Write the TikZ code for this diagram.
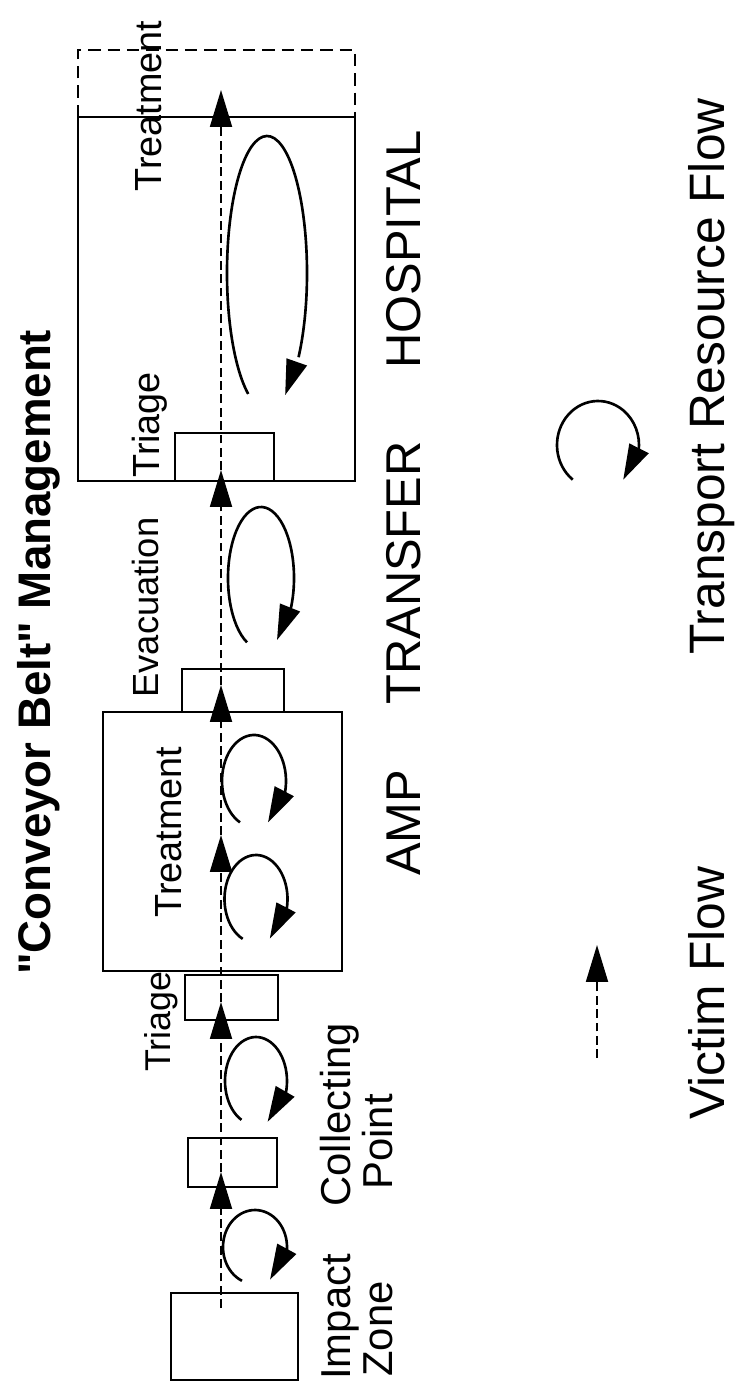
\documentclass[tikz,border=0pt]{standalone}
\usepackage{fontspec}
\setmainfont{Liberation Sans}[Ligatures=TeXOff]
\usetikzlibrary{arrows.meta,bending}
\begin{document}
\begin{tikzpicture}[x=0.02cm,y=-0.02cm,
  box/.style={draw,line width=1.4pt,inner sep=0pt,outer sep=0pt},
  victim/.style={line width=1.1pt,dash pattern=on 5pt off 2.6pt,-{Triangle[length=21pt,width=12.5pt]}},
  resloop/.style={line width=1.5pt,-{Triangle[length=20pt,width=12pt]}},
  lbl/.style={rotate=90,inner sep=0pt,anchor=base west},
  fbig/.style={lbl,font=\fontsize{27.8pt}{28pt}\selectfont},
  fmid/.style={lbl,font=\fontsize{23.8pt}{24pt}\selectfont},
  fsmall/.style={lbl,font=\fontsize{21.5pt}{22pt}\selectfont},
  flegend/.style={lbl,font=\fontsize{28.3pt}{29pt}\selectfont},
]
\path[use as bounding box] (0,0) rectangle (745,1390);

% title
\node[lbl,font=\bfseries\fontsize{26pt}{27pt}\selectfont] (title) at (51,975) {"Conveyor Belt" Management};

% boxes
\node[box,minimum width=2.54cm,minimum height=1.74cm] (impact) at (234.5,1336.5) {};
\node[box,minimum width=1.78cm,minimum height=0.98cm] (collect) at (232.5,1162.5) {};
\node[box,minimum width=1.86cm,minimum height=0.90cm] (atriagebox) at (231.5,997.5) {};
\node[box,minimum width=4.78cm,minimum height=5.18cm] (amp) at (222.5,841.5) {};
\node[box,minimum width=2.04cm,minimum height=0.86cm] (evac) at (233,690.5) {};
\node[box,minimum width=1.98cm,minimum height=0.96cm] (htriagebox) at (224.5,457) {};
\node[box,minimum width=5.54cm,minimum height=7.28cm] (hospital) at (216.5,299) {};
\coordinate (dA) at (78,117);
\coordinate (dB) at (78,50);
\coordinate (dC) at (355,50);
\coordinate (dD) at (355,117);
\draw[line width=1.4pt,dash pattern=on 7pt off 4pt] (dA) -- (dB) -- (dC) -- (dD);

% victim flow
\coordinate (v0) at (221,1308);
\coordinate (v1) at (221,1172);
\coordinate (v2) at (221,1002);
\coordinate (v3) at (221,835);
\coordinate (v4) at (221,685);
\coordinate (v5) at (221,470);
\coordinate (v6) at (221,90);
\draw[victim] (v0) -- (v1);
\draw[victim] (v1) -- (v2);
\draw[victim] (v2) -- (v3);
\draw[victim] (v3) -- (v4);
\draw[victim] (v4) -- (v5);
\draw[victim] (v5) -- (v6);

% transport resource loops
\draw[resloop] (255,1247) ++(114:32 and 37) arc[start angle=114,end angle=422,x radius=32,y radius=37];
\draw[resloop] (256,1081) ++(118:31 and 44) arc[start angle=118,end angle=428,x radius=31,y radius=44];
\draw[resloop] (256,899) ++(115:31.5 and 44) arc[start angle=115,end angle=424,x radius=31.5,y radius=44];
\draw[resloop] (254,781) ++(116:32 and 46) arc[start angle=116,end angle=424,x radius=32,y radius=46];
\draw[resloop] (261,578) ++(115:33 and 71) arc[start angle=115,end angle=421,x radius=33,y radius=71];
\draw[resloop] (267,273) ++(118:40 and 137) arc[start angle=118,end angle=423,x radius=40,y radius=137];

% inner labels
\node[fsmall] (htreat) at (161,192) {Treatment};
\node[fsmall] (htriage) at (159,478) {Triage};
\node[lbl,font=\fontsize{20.7pt}{21pt}\selectfont] (evaclbl) at (158,698) {Evacuation};
\node[fsmall] (atreat) at (181,918) {Treatment};
\node[lbl,font=\fontsize{20.4pt}{21pt}\selectfont] (atriage) at (170,1072) {Triage};

% stage labels
\node[fbig] (hosplbl) at (420,369) {HOSPITAL};
\node[fbig] (translbl) at (420,705) {TRANSFER};
\node[fbig] (amplbl) at (420,876) {AMP};
\node[fmid] (impactlbl) at (350,1380) {Impact};
\node[fmid] (zonelbl) at (392,1377) {Zone};
\node[fmid] (collbl) at (350,1207) {Collecting};
\node[fmid] (pointlbl) at (392,1190) {Point};

% legend
\draw[resloop] (598,445) ++(128:41 and 44) arc[start angle=128,end angle=412,x radius=41,y radius=44];
\coordinate (lv0) at (597,1058);
\coordinate (lv1) at (597,945);
\draw[victim] (lv0) -- (lv1);
\node[flegend] (trlbl) at (724,655) {Transport Resource Flow};
\node[flegend] (vflbl) at (724,1120) {Victim Flow};
\end{tikzpicture}
\end{document}
